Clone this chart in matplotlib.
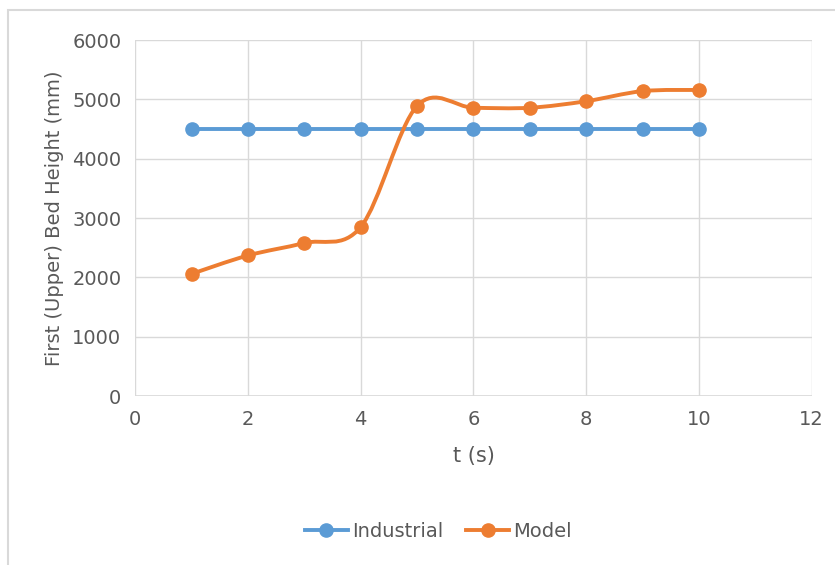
import matplotlib.pyplot as plt
from matplotlib.path import Path
from matplotlib.patches import PathPatch, Rectangle
from matplotlib.lines import Line2D

# data
t = [1, 2, 3, 4, 5, 6, 7, 8, 9, 10]
industrial = [4500, 4500, 4500, 4500, 4500, 4500, 4500, 4500, 4500, 4500]
model = [2060, 2370, 2580, 2850, 4890, 4860, 4860, 4970, 5140, 5160]

blue = '#5B9BD5'
orange = '#ED7D31'
grey = '#595959'

plt.rcParams['font.family'] = ['DejaVu Sans']


def smooth_path(xs, ys):
    # Excel-style smoothed line: cubic bezier through the points
    verts = [(xs[0], ys[0])]
    codes = [Path.MOVETO]
    n = len(xs)
    for i in range(n - 1):
        x0, y0 = (xs[i - 1], ys[i - 1]) if i > 0 else (xs[i], ys[i])
        x1, y1 = xs[i], ys[i]
        x2, y2 = xs[i + 1], ys[i + 1]
        x3, y3 = (xs[i + 2], ys[i + 2]) if i + 2 < n else (x2, y2)
        c1 = (x1 + (x2 - x0) / 6, y1 + (y2 - y0) / 6)
        c2 = (x2 - (x3 - x1) / 6, y2 - (y3 - y1) / 6)
        verts += [c1, c2, (x2, y2)]
        codes += [Path.CURVE4] * 3
    return Path(verts, codes)


fig = plt.figure(figsize=(8.35, 5.65), dpi=100)
# outer chart border, runs off the right and bottom edges like the reference
fig.patches.append(Rectangle((0.01, -0.05), 1.1, 1.032, transform=fig.transFigure,
                             fill=False, edgecolor='#d9d9d9', linewidth=1.5))
ax = fig.add_axes([0.162, 0.299, 0.810, 0.630])

ax.plot(t, industrial, color=blue, linewidth=2.8, marker='o', markersize=9.5, zorder=3)
ax.add_patch(PathPatch(smooth_path(t, model), facecolor='none', edgecolor=orange,
                       linewidth=2.8, zorder=3))
ax.plot(t, model, linestyle='none', color=orange, marker='o', markersize=9.5, zorder=4)

ax.set_xlim(0, 12)
ax.set_ylim(0, 6000)
ax.set_xticks(range(0, 13, 2))
ax.set_yticks(range(0, 6001, 1000))
ax.grid(True, color='#d9d9d9', linewidth=1)
ax.set_axisbelow(True)
for s in ax.spines.values():
    s.set_visible(False)
ax.axhline(0, color='#d9d9d9', linewidth=1.2)
ax.tick_params(length=0, labelsize=14, colors=grey, pad=10)

ax.set_xlabel('t (s)', fontsize=15, color=grey, labelpad=12)
ax.set_ylabel('First (Upper) Bed Height (mm)', fontsize=14, color=grey, labelpad=6)

handles = [Line2D([], [], color=blue, linewidth=2.8, marker='o', markersize=9.5),
           Line2D([], [], color=orange, linewidth=2.8, marker='o', markersize=9.5)]
fig.legend(handles, ['Industrial', 'Model'], loc='center', bbox_to_anchor=(0.525, 0.06),
           ncol=2, frameon=False, fontsize=14, labelcolor=grey, handlelength=2.2,
           handletextpad=0.2, columnspacing=1.2)

fig.savefig('out.png', dpi=100)
